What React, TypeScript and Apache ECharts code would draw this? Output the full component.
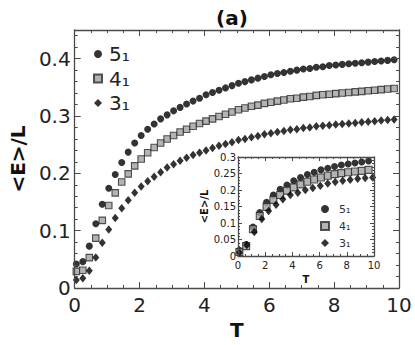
import React, { useEffect, useRef } from "react";
import * as echarts from "echarts";

const FONT = "DejaVu Sans";

// Main panel
const T_MAIN = [0.05, 0.25, 0.45, 0.65, 0.85, 1.05, 1.25, 1.45, 1.65, 1.85, 2.05, 2.25, 2.45, 2.65, 2.85, 3.05, 3.25, 3.45, 3.65, 3.85, 4.05, 4.25, 4.45, 4.65, 4.85, 5.05, 5.25, 5.45, 5.65, 5.85, 6.05, 6.25, 6.45, 6.65, 6.85, 7.05, 7.25, 7.45, 7.65, 7.85, 8.05, 8.25, 8.45, 8.65, 8.85, 9.05, 9.25, 9.45, 9.65, 9.85];
const E_5 = [0.042, 0.046, 0.073, 0.112, 0.146, 0.174, 0.198, 0.219, 0.237, 0.253, 0.266, 0.277, 0.286, 0.295, 0.302, 0.309, 0.315, 0.321, 0.326, 0.331, 0.337, 0.341, 0.345, 0.349, 0.353, 0.357, 0.360, 0.363, 0.366, 0.369, 0.372, 0.374, 0.376, 0.378, 0.380, 0.382, 0.383, 0.385, 0.386, 0.388, 0.389, 0.390, 0.391, 0.392, 0.393, 0.394, 0.395, 0.396, 0.397, 0.398];
const E_4 = [0.029, 0.031, 0.053, 0.087, 0.118, 0.144, 0.166, 0.185, 0.199, 0.213, 0.225, 0.236, 0.245, 0.253, 0.260, 0.266, 0.272, 0.277, 0.282, 0.287, 0.291, 0.295, 0.299, 0.303, 0.307, 0.311, 0.314, 0.317, 0.319, 0.322, 0.324, 0.326, 0.328, 0.330, 0.331, 0.333, 0.334, 0.336, 0.337, 0.338, 0.339, 0.340, 0.341, 0.342, 0.343, 0.344, 0.345, 0.346, 0.347, 0.348];
const E_3 = [0.014, 0.017, 0.030, 0.053, 0.079, 0.102, 0.122, 0.139, 0.153, 0.166, 0.177, 0.186, 0.194, 0.202, 0.210, 0.216, 0.222, 0.227, 0.232, 0.236, 0.240, 0.244, 0.248, 0.251, 0.254, 0.258, 0.260, 0.263, 0.265, 0.268, 0.270, 0.272, 0.274, 0.276, 0.277, 0.279, 0.280, 0.282, 0.283, 0.284, 0.285, 0.286, 0.287, 0.288, 0.289, 0.290, 0.291, 0.292, 0.293, 0.294];

// Inset panel
const T_INSET = [0.1, 0.6, 1.1, 1.6, 2.1, 2.6, 3.1, 3.6, 4.1, 4.6, 5.1, 5.6, 6.1, 6.6, 7.1, 7.6, 8.1, 8.6, 9.1, 9.6];
const E_INSET_5 = [0.017, 0.035, 0.088, 0.132, 0.163, 0.185, 0.202, 0.215, 0.228, 0.238, 0.247, 0.254, 0.261, 0.266, 0.271, 0.276, 0.279, 0.282, 0.285, 0.288];
const E_INSET_4 = [0.012, 0.030, 0.081, 0.121, 0.149, 0.170, 0.185, 0.198, 0.208, 0.217, 0.225, 0.232, 0.238, 0.243, 0.248, 0.251, 0.254, 0.256, 0.258, 0.261];
const T_INSET_3 = [0.1, 0.65, 1.2, 1.75, 2.25, 2.8, 3.3, 3.85, 4.4, 4.95, 5.5, 6.05, 6.6, 7.15, 7.7, 8.25, 8.8, 9.35, 9.9];
const E_INSET_3 = [0.010, 0.033, 0.073, 0.112, 0.136, 0.155, 0.172, 0.185, 0.192, 0.200, 0.206, 0.213, 0.220, 0.224, 0.228, 0.231, 0.234, 0.236, 0.238];

const NAMES = ["5\u2081", "4\u2081", "3\u2081"];
const X_TICKS = { min: 0, max: 10, interval: 2 };
const Y_MAIN = { min: 0, max: 0.45, interval: 0.1 };
const Y_INSET = { min: 0, max: 0.3, interval: 0.05 };

const zip = (xs: number[], ys: number[]) => ys.map((y, i) => [xs[i], y]);

const AXIS_COLOR = "#4a4a4a";
const LABEL_COLOR = "#222";

function makeAxis(opts: any) {
  const { gridIndex, position, range, showLabels, fontSize, tickLen, minorSplit, formatter, name, nameGap, nameSize, labelMargin, showMax } = opts;
  return {
    type: "value",
    gridIndex,
    position,
    min: range.min,
    max: range.max,
    interval: range.interval,
    axisLine: { show: true, onZero: false, lineStyle: { color: AXIS_COLOR, width: 1.3 } },
    axisTick: { show: true, inside: true, length: tickLen, lineStyle: { color: AXIS_COLOR, width: 1 } },
    minorTick: { show: true, splitNumber: minorSplit, length: tickLen / 2, lineStyle: { color: AXIS_COLOR, width: 1 } },
    splitLine: { show: false },
    minorSplitLine: { show: false },
    axisLabel: {
      show: showLabels,
      fontSize,
      fontFamily: FONT,
      color: LABEL_COLOR,
      margin: labelMargin,
      showMaxLabel: showMax,
      formatter,
    },
    name: showLabels ? name : "",
    nameLocation: "middle",
    nameGap,
    nameTextStyle: { fontSize: nameSize, fontWeight: "bold", fontFamily: FONT, color: "#111" },
    z: 10,
  };
}

export default function App() {
  const ref = useRef<HTMLDivElement>(null);
  useEffect(() => {
    if (!ref.current) return;
    const chart = echarts.init(ref.current, undefined, { renderer: "svg" });
    const yFmtMain = (v: number) => (v === 0 ? "0" : v.toFixed(1));
    const yFmtInset = (v: number) => (v === 0 ? "0" : String(Math.round(v * 100) / 100));
    const xFmt = (v: number) => String(Math.round(v));

    const circleStyle = { color: "#000" };
    const squareStyle = { color: "#a0a0a0", borderColor: "#2a2a2a", borderWidth: 1.1 };
    const diamondStyle = { color: "#000" };

    chart.setOption({
      animation: false,
      backgroundColor: "#fff",
      textStyle: { fontFamily: FONT },
      graphic: [
        {
          type: "text",
          x: 232,
          y: 18,
          style: { text: "(a)", font: `bold 20px ${FONT}`, fill: "#111", textAlign: "center", textVerticalAlign: "middle" },
        },
      ],
      grid: [
        { left: 65, top: 30, width: 334, height: 258, show: false },
        { left: 238, top: 157, width: 136, height: 99, show: true, backgroundColor: "#fff", borderWidth: 0 },
      ],
      legend: [
        {
          data: NAMES,
          orient: "vertical",
          left: 93,
          top: 44,
          padding: 0,
          itemWidth: 8,
          itemHeight: 8,
          itemGap: 4.5,
          selectedMode: false,
          textStyle: { fontSize: 20, lineHeight: 20, fontFamily: FONT, color: LABEL_COLOR, padding: [0, 0, 0, 2] },
        },
        {
          data: NAMES,
          orient: "vertical",
          left: 320,
          top: 203.5,
          padding: 0,
          itemWidth: 8,
          itemHeight: 8,
          itemGap: 6,
          selectedMode: false,
          textStyle: { fontSize: 11, lineHeight: 11, fontFamily: FONT, color: "#333", padding: [0, 0, 0, 5] },
        },
      ],
      xAxis: [
        makeAxis({ gridIndex: 0, position: "bottom", range: X_TICKS, showLabels: true, fontSize: 20, tickLen: 6, minorSplit: 4, formatter: xFmt, name: "T", nameGap: 26, nameSize: 20, labelMargin: 7, showMax: true }),
        makeAxis({ gridIndex: 0, position: "top", range: X_TICKS, showLabels: false, fontSize: 20, tickLen: 6, minorSplit: 4, formatter: xFmt, name: "", nameGap: 0, nameSize: 20, labelMargin: 5, showMax: true }),
        makeAxis({ gridIndex: 1, position: "bottom", range: X_TICKS, showLabels: true, fontSize: 10, tickLen: 4, minorSplit: 4, formatter: xFmt, name: "T", nameGap: 18, nameSize: 10, labelMargin: 4, showMax: true }),
        makeAxis({ gridIndex: 1, position: "top", range: X_TICKS, showLabels: false, fontSize: 10, tickLen: 4, minorSplit: 4, formatter: xFmt, name: "", nameGap: 0, nameSize: 10, labelMargin: 4, showMax: true }),
      ],
      yAxis: [
        makeAxis({ gridIndex: 0, position: "left", range: Y_MAIN, showLabels: true, fontSize: 20, tickLen: 6, minorSplit: 5, formatter: yFmtMain, name: "<E>/L", nameGap: 40, nameSize: 20, labelMargin: 4, showMax: false }),
        makeAxis({ gridIndex: 0, position: "right", range: Y_MAIN, showLabels: false, fontSize: 20, tickLen: 6, minorSplit: 5, formatter: yFmtMain, name: "", nameGap: 0, nameSize: 20, labelMargin: 3, showMax: false }),
        makeAxis({ gridIndex: 1, position: "left", range: Y_INSET, showLabels: true, fontSize: 10, tickLen: 4, minorSplit: 5, formatter: yFmtInset, name: "<E>/L", nameGap: 26, nameSize: 10, labelMargin: 2, showMax: true }),
        makeAxis({ gridIndex: 1, position: "right", range: Y_INSET, showLabels: false, fontSize: 10, tickLen: 4, minorSplit: 5, formatter: yFmtInset, name: "", nameGap: 0, nameSize: 10, labelMargin: 2, showMax: true }),
      ],
      series: [
        { name: NAMES[0], type: "scatter", xAxisIndex: 0, yAxisIndex: 0, symbol: "circle", symbolSize: 7, itemStyle: circleStyle, data: zip(T_MAIN, E_5) },
        { name: NAMES[1], type: "scatter", xAxisIndex: 0, yAxisIndex: 0, symbol: "rect", symbolSize: 6.5, itemStyle: squareStyle, data: zip(T_MAIN, E_4) },
        { name: NAMES[2], type: "scatter", xAxisIndex: 0, yAxisIndex: 0, symbol: "diamond", symbolSize: [7, 8.5], itemStyle: diamondStyle, data: zip(T_MAIN, E_3) },
        { name: NAMES[0], type: "scatter", xAxisIndex: 2, yAxisIndex: 2, symbol: "circle", symbolSize: 7, itemStyle: circleStyle, data: zip(T_INSET, E_INSET_5), z: 5 },
        { name: NAMES[1], type: "scatter", xAxisIndex: 2, yAxisIndex: 2, symbol: "rect", symbolSize: 7, itemStyle: squareStyle, data: zip(T_INSET, E_INSET_4), z: 5 },
        { name: NAMES[2], type: "scatter", xAxisIndex: 2, yAxisIndex: 2, symbol: "diamond", symbolSize: [7, 8.5], itemStyle: diamondStyle, data: zip(T_INSET_3, E_INSET_3), z: 5 },
      ],
    });
    return () => chart.dispose();
  }, []);
  return <div ref={ref} style={{ position: "fixed", left: 0, top: 0, width: 415, height: 345 }} />;
}
